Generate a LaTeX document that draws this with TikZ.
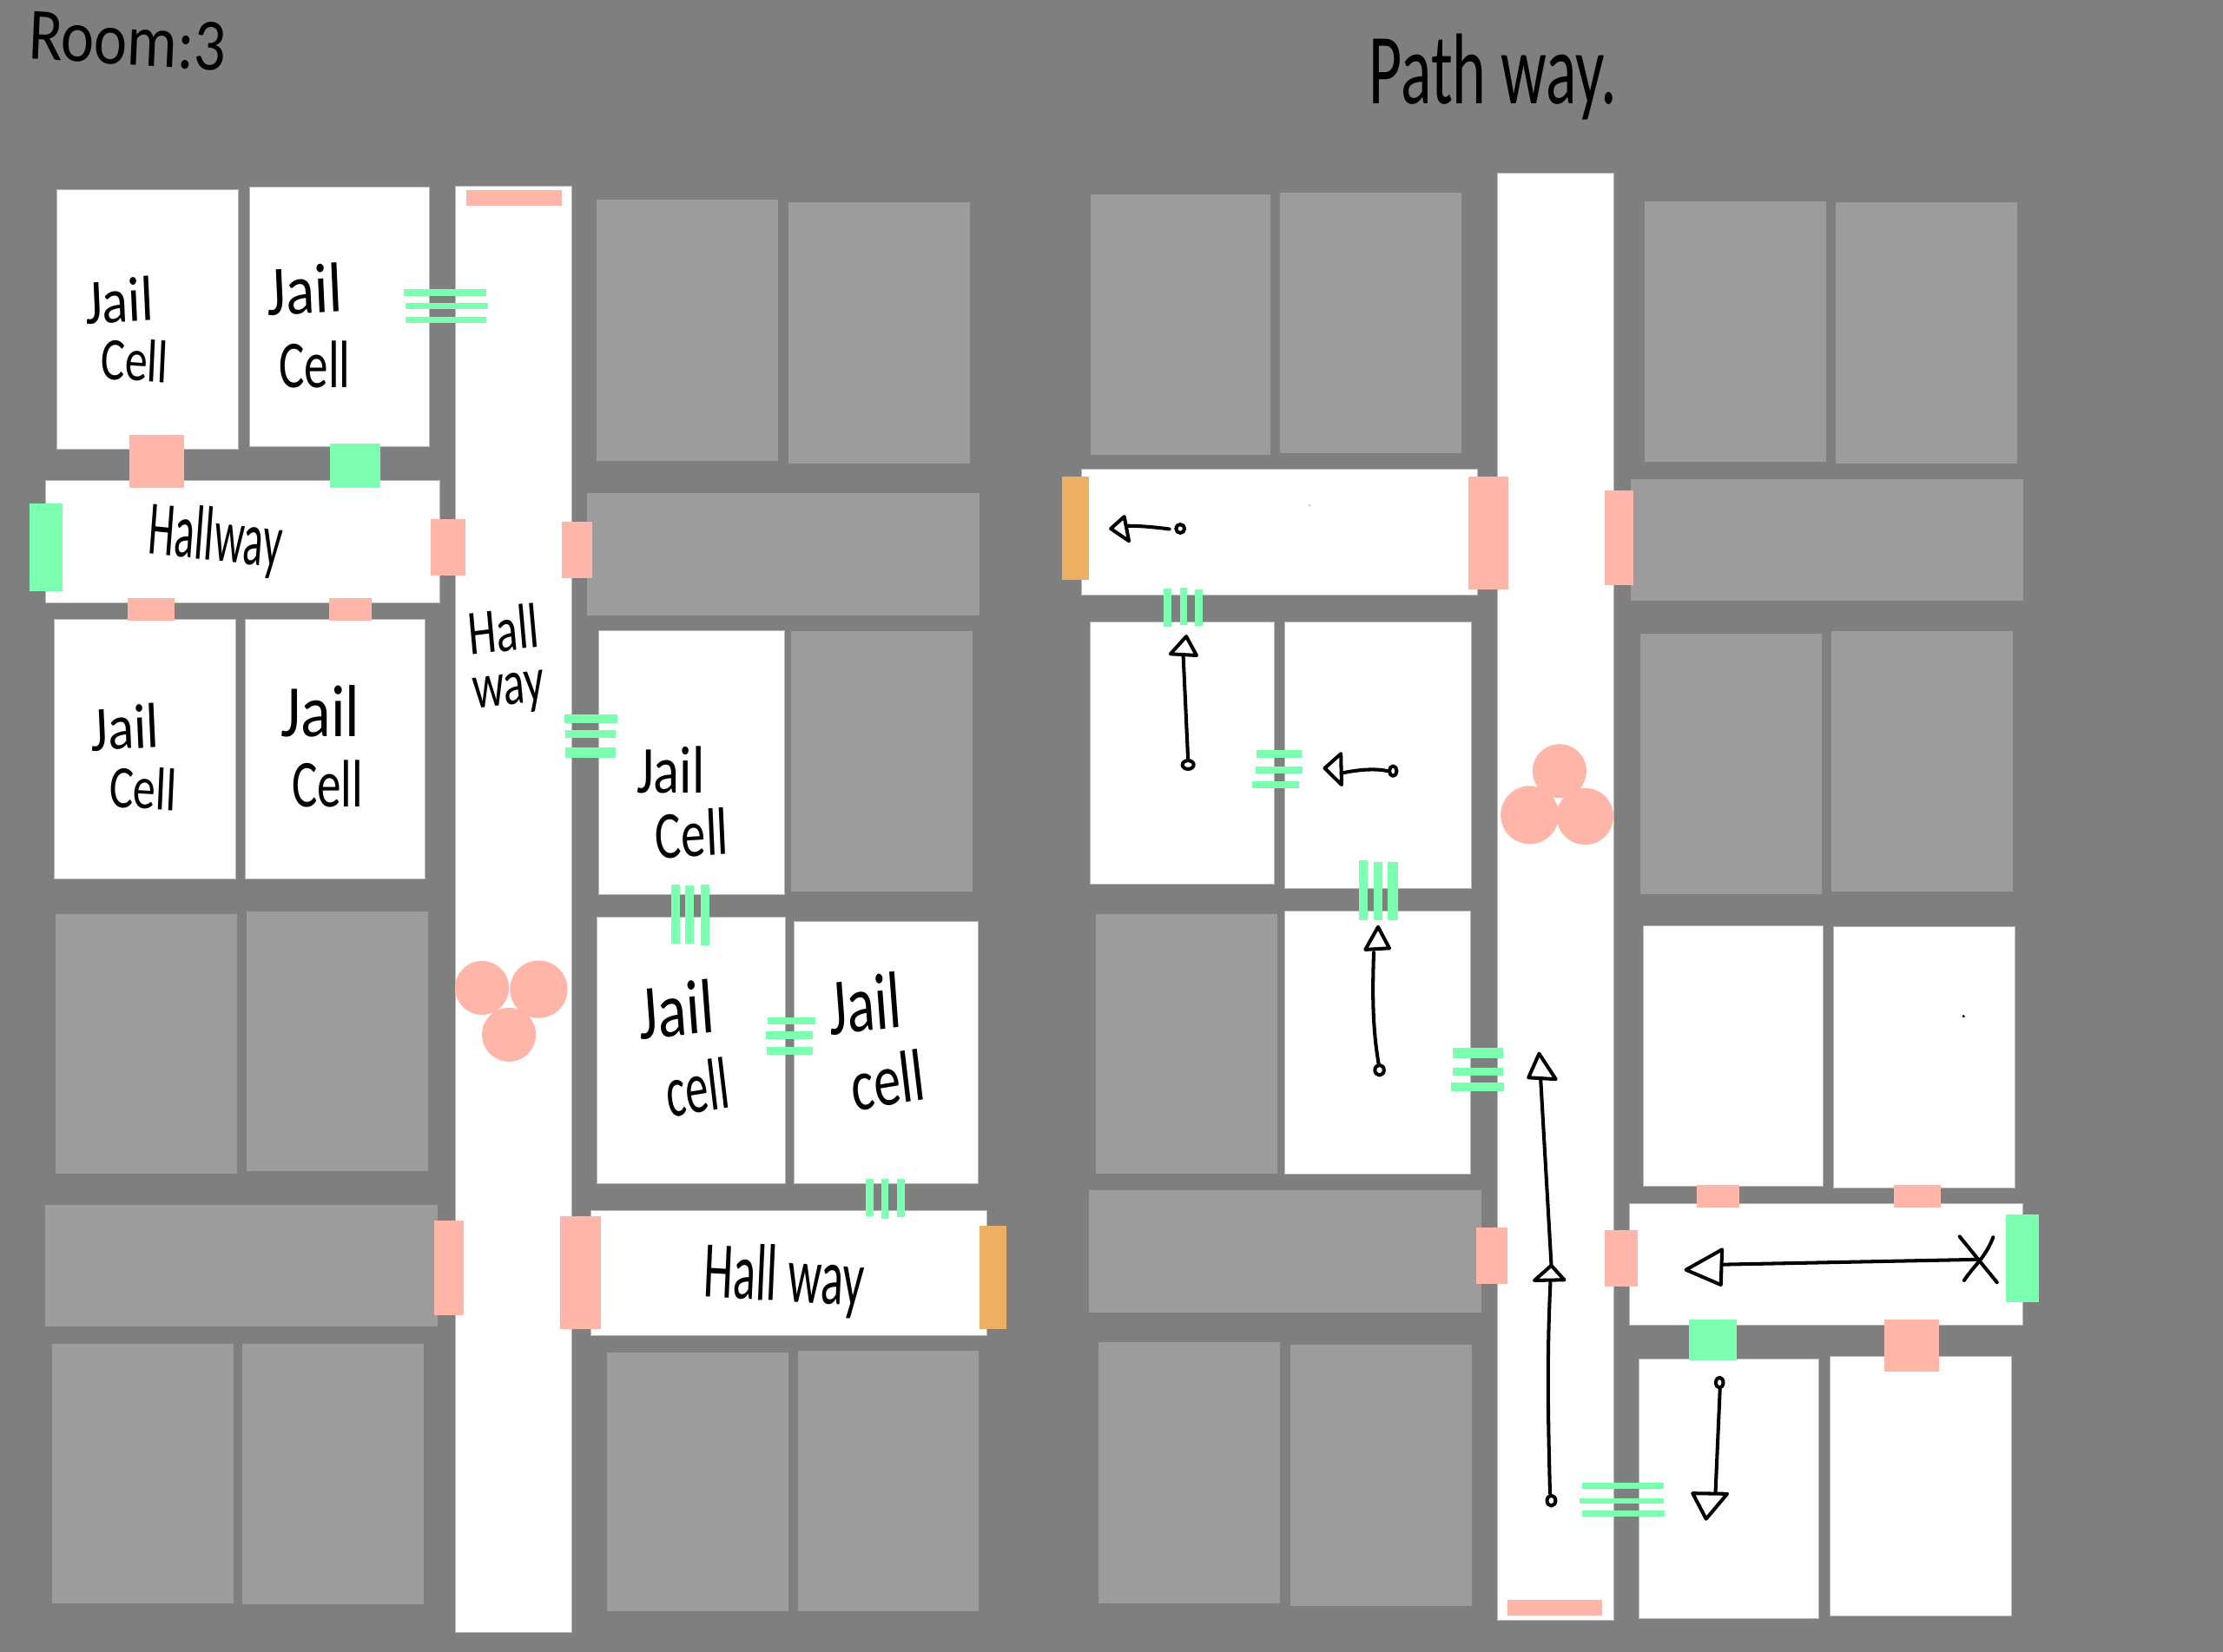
\documentclass[tikz,border=0pt]{standalone}
\usepackage{fontspec}
\newfontfamily\handfont{Carlito}
\definecolor{bgc}{HTML}{7F7F7F}
\definecolor{roomgray}{HTML}{9C9C9C}
\definecolor{salmon}{HTML}{FFB6A9}
\definecolor{mint}{HTML}{7DFFB2}
\definecolor{amber}{HTML}{ECAF63}
\definecolor{edgec}{HTML}{B8B8B8}
\tikzset{
  hand/.style={font=\handfont\fontsize{22}{24}\selectfont, inner sep=0pt, text=black, xscale=.85},
  ink/.style={draw=black, line width=1.15pt, line cap=round, line join=round},
  whiteroom/.style={fill=white, draw=edgec, line width=.2pt},
  grayroom/.style={fill=roomgray},
}
\begin{document}
\begin{tikzpicture}[x=0.016327cm, y=-0.016327cm]
\useasboundingbox (0,0) rectangle (1568,1165);
\fill[bgc] (-5,-5) rectangle (1575,1170);
% gray rooms
\foreach \xa/\ya/\xb/\yb in {
 39/645/167/828, 174/643/302/826, 32/850/309/936, 37/948/165/1131, 171/948/299/1132,
 421/141/549/325, 556/143/684/327, 414/348/691/434, 558/445/686/629,
 428/954/556/1137, 563/953/690/1137,
 769/137/896/321, 903/136/1031/320, 773/645/901/828, 768/840/1045/926,
 775/947/903/1131, 910/949/1038/1133,
 1160/142/1288/326, 1295/143/1423/327, 1150/338/1427/424, 1157/447/1285/631, 1292/445/1420/629}
  \fill[grayroom] (\xa,\ya) rectangle (\xb,\yb);
% white rooms
\foreach \xa/\ya/\xb/\yb in {
 40/134/168/317, 176/132/303/315, 32/339/310/425, 38/437/166/620, 173/437/300/620, 321/131/403/1152,
 422/445/553/631, 421/647/554/835, 560/650/690/835, 417/854/696/942,
 763/331/1042/420, 769/439/899/624, 906/439/1038/627, 906/643/1037/828, 1056/122/1138/1143,
 1159/653/1286/837, 1293/654/1421/838, 1149/849/1427/935, 1156/959/1283/1142, 1291/957/1419/1140}
  \filldraw[whiteroom] (\xa,\ya) rectangle (\xb,\yb);
% salmon doors
\foreach \xa/\ya/\xb/\yb in {
 329/134/396/145, 91/307/130/344, 90/422/123/438, 232/422/262/438, 304/366/328/406, 396/368/418/408,
 306/861/327/928, 395/858/424/938, 1036/336/1064/416, 1132/346/1152/413, 1041/866/1063/906,
 1132/868/1155/908, 1197/836/1227/852, 1336/836/1369/852, 1329/931/1368/968, 1063/1129/1130/1140}
  \fill[salmon] (\xa,\ya) rectangle (\xb,\yb);
% mint doors and bars
\foreach \xa/\ya/\xb/\yb in {
 233/313/268/344, 21/355/44/417, 1191/931/1225/960, 1415/857/1438/919,
 285/204/343/209, 286/214/344/218, 286/223.5/343/228,
 398/503.8/435.5/510, 399/515/434/520.6, 399/527.5/434/534.7,
 473.5/624/479.6/666, 483.3/625/489.5/666, 494.4/624/500.4/667,
 541.6/718/575/723, 540/727.8/573/733, 541/738.7/573/744,
 610.7/831.6/616/858, 621.7/832/626.6/860, 632.7/831.6/638.2/858.6,
 820.8/415/826/442, 832.4/414.6/837.3/441, 842.8/416/848.3/441.5,
 886/529/918/535, 885.5/541/918.5/546, 883/551/916.5/556,
 958.5/607/964.5/649, 969/608/975/649, 979/608/986/649,
 1024.7/739/1060/746.5, 1024.7/753.3/1060/758.8, 1023.5/763.8/1061/770,
 1115.8/1046/1173.5/1050.6, 1114/1057/1173.5/1061, 1115.8/1066/1174/1070}
  \fill[mint] (\xa,\ya) rectangle (\xb,\yb);
% amber doors
\foreach \xa/\ya/\xb/\yb in {691/865/710/938, 749/336/768/409}
  \fill[amber] (\xa,\ya) rectangle (\xb,\yb);
% guards
\fill[salmon] (340,697) circle (19) (380,698) circle (20.3) (359,730) circle (19)
  (1100,544) circle (19) (1079,575) circle (20.5) (1118,576) circle (20);
% specks
\fill[amber] (923.6,356.5) circle (.7) (535,917) circle (.7);
\fill[black] (1385,717) circle (1);
% labels
\node[hand, rotate=-3, scale=1.1] (room) at (90,29) {Room:3};
\node[hand, scale=1.5, xscale=.75] (path) at (1053,54) {Path way.};
\node[hand, scale=.95, rotate=3] (a1) at (84,212) {Jail};
\node[hand, scale=.9, rotate=-3, xscale=.88] (a2) at (95,254) {Cell};
\node[hand, scale=1.05, rotate=3] (b1) at (215,204) {Jail};
\node[hand, scale=1, xscale=.84] (b2) at (222,257) {Cell};
\node[hand, scale=.95, rotate=3] (c1) at (88,513) {Jail};
\node[hand, scale=.9, rotate=-3, xscale=.88] (c2) at (101,556) {Cell};
\node[hand, scale=1.1] (d1) at (226,502) {Jail};
\node[hand, scale=1, xscale=.84] (d2) at (231,553) {Cell};
\node[hand, scale=1, xscale=.95] (e1) at (473,543) {Jail};
\node[hand, scale=1, rotate=3, xscale=.86] (e2) at (488,588) {Cell};
\node[hand, scale=1.15, rotate=5, xscale=.92] (f1) at (477,712) {Jail};
\node[hand, scale=1.1, rotate=8, xscale=.73] (f2) at (492,767) {cell};
\node[hand, scale=1.2, rotate=5, xscale=.85] (g1) at (610,708) {Jail};
\node[hand, scale=1.1, rotate=8, xscale=.86] (g2) at (626,762) {cell};
\node[hand, scale=1.15, rotate=-5, xscale=.64] (h) at (152,381) {Hallway};
\node[hand, scale=.95, rotate=6, xscale=.83] (i1) at (355,444) {Hall};
\node[hand, scale=.95, rotate=6, xscale=.82] (i2) at (359,490) {way};
\node[hand, scale=1.2, rotate=-3, xscale=.69] (j) at (553,903) {Hall way};
% pathway arrows
\draw[ink] (832.5,373) circle (3);
\draw[ink] (824.8,373.3) .. controls (815,372) and (805,371) .. (794.6,371);
\draw[ink] (783.5,373) -- (793,364.5) -- (796.3,381.7) -- cycle;
\draw[ink] (838,539.6) ellipse (4 and 3);
\draw[ink] (838,536) -- (834.6,462.6);
\draw[ink] (836.7,449) -- (825.6,461.4) -- (844,462.4) -- cycle;
\draw[ink] (982.6,544) ellipse (2.6 and 3.5);
\draw[ink] (978.8,544) .. controls (970,542) and (958,543) .. (946.3,545.5);
\draw[ink] (934.4,542) -- (945.8,531.8) -- (946.3,553.7) -- cycle;
\draw[ink] (973,755) ellipse (3.2 and 3.6);
\draw[ink] (972.5,751) .. controls (968,725) and (968,700) .. (969,672);
\draw[ink] (972,654) -- (963,670) -- (980,669) -- cycle;
\draw[ink] (1094.2,892.2) -- (1086.7,761.4);
\draw[ink] (1085.6,743.4) -- (1078.1,760.3) -- (1097.4,761.4) -- cycle;
\draw[ink] (1094.2,1058.8) ellipse (3 and 3.6);
\draw[ink] (1093.3,1053.6) .. controls (1092,1000) and (1091,960) .. (1093.6,904.6);
\draw[ink] (1094.2,892.9) -- (1082.3,903.4) -- (1103.4,903) -- cycle;
\draw[ink] (1396.4,888.6) -- (1214.4,892.2);
\draw[ink] (1189.2,895.9) -- (1214.7,881.6) -- (1213.8,906.5) -- cycle;
\draw[ink] (1382.2,872.4) -- (1408.6,904.8);
\draw[ink] (1405.9,872.9) .. controls (1400,888) and (1393,892) .. (1385.4,903.4);
\draw[ink] (1212.9,975.5) ellipse (2.6 and 3.6);
\draw[ink] (1213.2,980.2) -- (1210,1053.6);
\draw[ink] (1203.4,1071.7) -- (1193.9,1053.6) -- (1218.3,1054) -- cycle;
\end{tikzpicture}
\end{document}
